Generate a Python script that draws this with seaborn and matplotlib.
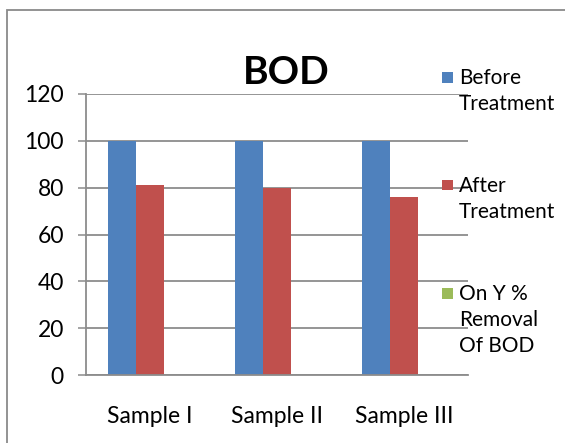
import numpy as np
import pandas as pd
import seaborn as sns
import matplotlib.pyplot as plt
from matplotlib.patches import Rectangle

# Chart data
samples = ["Sample I", "Sample II", "Sample III"]
series = ["Before Treatment", "After Treatment", "On Y % Removal Of BOD"]
legend_lines = [["Before", "Treatment"], ["After", "Treatment"], ["On Y %", "Removal", "Of BOD"]]
before = [100, 100, 100]
after = [81, 80, 76]
removal = [0, 0, 0]
yticks = [0, 20, 40, 60, 80, 100, 120]
colors = ["#4F81BD", "#C0504D", "#9BBB59"]

W, H = 565, 443
GRID = "#8c8c8c"

sns.set_theme(style="white")
plt.rcParams["font.family"] = ["Lato", "DejaVu Sans"]

df = pd.DataFrame({
    "sample": samples * 3,
    "series": np.repeat(series, len(samples)),
    "value": before + after + removal,
})

fig = plt.figure(figsize=(W / 100, H / 100), dpi=100)
ax = fig.add_axes([86 / W, 1 - 375 / H, (468 - 86) / W, (375 - 94) / H])

sns.barplot(data=df, x="sample", y="value", hue="series", order=samples,
            hue_order=series, palette=colors, width=0.66, saturation=1,
            linewidth=0, legend=False, ax=ax)

ax.set_ylim(0, 120)
ax.set_yticks(yticks)
ax.set_axisbelow(True)
ax.yaxis.grid(True, color=GRID, lw=1.3)
ax.xaxis.grid(False)
ax.set_xlabel("")
ax.set_ylabel("")
for s in ["top", "right"]:
    ax.spines[s].set_visible(False)
for s in ["left", "bottom"]:
    ax.spines[s].set_color(GRID)
    ax.spines[s].set_linewidth(1.3)
ax.tick_params(axis="y", left=True, length=6, width=1.1, color=GRID,
               pad=10, labelsize=16.5, labelcolor="black")
ax.tick_params(axis="x", length=0, pad=22, labelsize=16.5, labelcolor="black")

# Title
fig.text(286 / W, 1 - 84 / H, "BOD", ha="center", va="baseline",
         fontsize=28, fontweight="bold", color="black")

# Legend on the right
for i, lines in enumerate(legend_lines):
    yc = 77 + 108 * i
    fig.add_artist(Rectangle((442 / W, 1 - (yc + 5.5) / H), 11 / W, 11 / H,
                             transform=fig.transFigure, color=colors[i], lw=0))
    for j, line in enumerate(lines):
        fig.text(459 / W, 1 - (yc + 7 + 26 * j) / H, line, ha="left",
                 va="baseline", fontsize=15, color="black")

# Chart area border
fig.add_artist(Rectangle((7 / W, -0.2), 1.5, 1 - 10 / H + 0.2, fill=False,
                         edgecolor="#8a8a8a", lw=1.3, transform=fig.transFigure))

fig.savefig("out.png", dpi=100)
